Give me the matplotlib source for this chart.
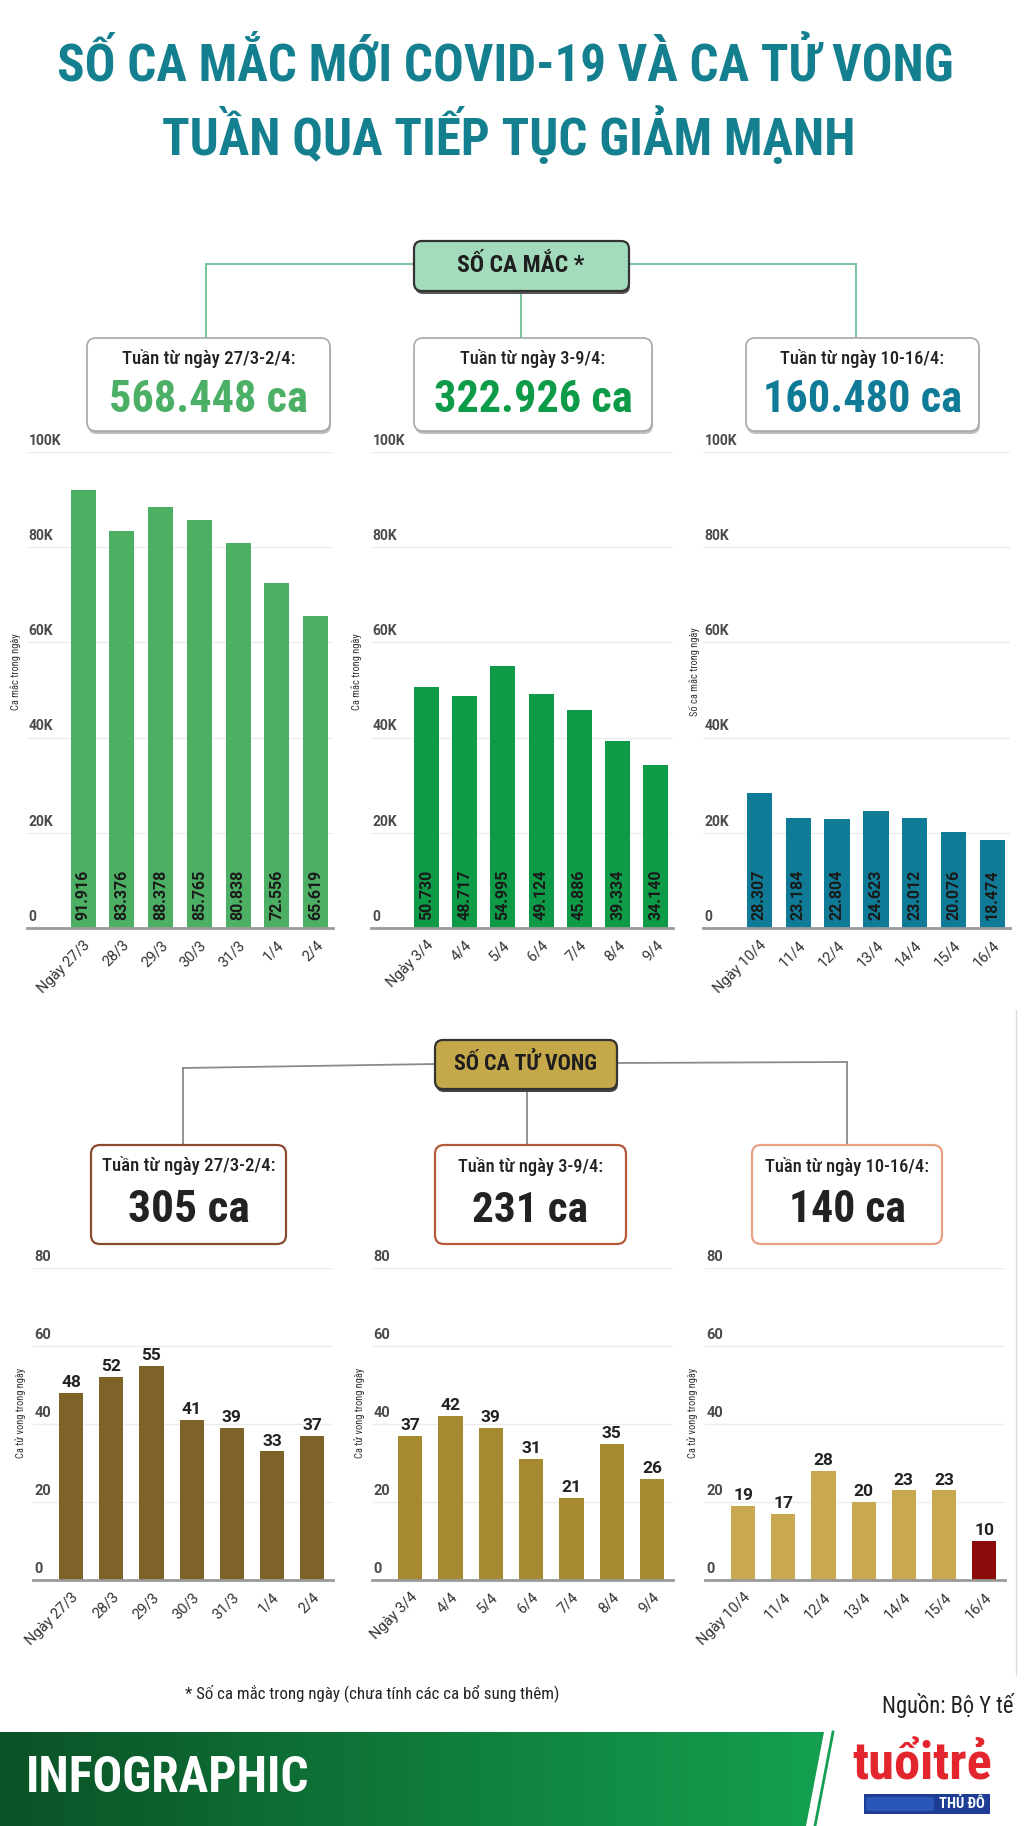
import matplotlib
matplotlib.use('Agg')
import matplotlib.pyplot as plt
import numpy as np
from matplotlib import font_manager
from matplotlib.patches import FancyBboxPatch, Polygon, Rectangle
from matplotlib.colors import LinearSegmentedColormap

# -------------------- fonts --------------------
names = {f.name for f in font_manager.fontManager.ttflist}
cond = next((n for n in ['Roboto Condensed', 'Liberation Sans Narrow', 'Open Sans Condensed']
             if n in names), 'Roboto')
COND = [cond, 'Roboto', 'DejaVu Sans']
SANS = ['Roboto', 'DejaVu Sans']
plt.rcParams['font.family'] = SANS

# -------------------- data --------------------
days_w1 = ['Ngày 27/3', '28/3', '29/3', '30/3', '31/3', '1/4', '2/4']
days_w2 = ['Ngày 3/4', '4/4', '5/4', '6/4', '7/4', '8/4', '9/4']
days_w3 = ['Ngày 10/4', '11/4', '12/4', '13/4', '14/4', '15/4', '16/4']

cases_w1 = [91916, 83376, 88378, 85765, 80838, 72556, 65619]
cases_w2 = [50730, 48717, 54995, 49124, 45886, 39334, 34140]
cases_w3 = [28307, 23184, 22804, 24623, 23012, 20076, 18474]

deaths_w1 = [48, 52, 55, 41, 39, 33, 37]
deaths_w2 = [37, 42, 39, 31, 21, 35, 26]
deaths_w3 = [19, 17, 28, 20, 23, 23, 10]

week_titles = ['Tuần từ ngày 27/3-2/4:', 'Tuần từ ngày 3-9/4:', 'Tuần từ ngày 10-16/4:']
case_totals = ['568.448 ca', '322.926 ca', '160.480 ca']
death_totals = ['305 ca', '231 ca', '140 ca']

case_colors = ['#4caf63', '#0d9b48', '#0f7b97']
case_total_colors = ['#4caf66', '#0d9b48', '#0f7b97']
death_colors = ['#7d6328', '#a68a30', '#c9a94f']
death_last_color = '#8b0a0a'
death_box_edges = ['#8a4b2e', '#b45a3a', '#e9a183']

case_ylabels = ['Ca mắc trong ngày', 'Ca mắc trong ngày', 'Số ca mắc trong ngày']
death_ylabel = 'Ca tử vong trong ngày'

W, H = 1024, 1826
fig = plt.figure(figsize=(W / 100, H / 100), dpi=100)
bg = fig.add_axes([0, 0, 1, 1])
bg.set_xlim(0, W)
bg.set_ylim(H, 0)
bg.axis('off')
renderer = fig.canvas.get_renderer()


def fit(t, width):
    # chỉnh cỡ chữ theo bề rộng đo trên ảnh gốc
    w = t.get_window_extent(renderer).width
    t.set_fontsize(t.get_fontsize() * width / w)
    return t


def px_axes(x0, x1, ytop, ybot):
    ax = fig.add_axes([x0 / W, 1 - ybot / H, (x1 - x0) / W, (ybot - ytop) / H])
    ax.set_facecolor('none')
    return ax


def rbox(x, y, w, h, fc, ec, lw, r=7, shadow=None):
    if shadow:
        bg.add_patch(FancyBboxPatch((x + 1, y + 3), w, h, boxstyle=f'round,pad=0,rounding_size={r}',
                                    fc=shadow, ec='none', zorder=1))
    bg.add_patch(FancyBboxPatch((x, y), w, h, boxstyle=f'round,pad=0,rounding_size={r}',
                                fc=fc, ec=ec, lw=lw, zorder=2))


# -------------------- title --------------------
title_col = '#14808f'
fit(bg.text(505, 66, 'SỐ CA MẮC MỚI COVID-19 VÀ CA TỬ VONG', ha='center', va='center',
            fontsize=30, weight='bold', color=title_col, family=COND), 897)
fit(bg.text(509, 137, 'TUẦN QUA TIẾP TỤC GIẢM MẠNH', ha='center', va='center',
            fontsize=30, weight='bold', color=title_col, family=COND), 693)

# -------------------- cases header --------------------
line_g = '#7cc4a0'
bg.plot([206, 414], [264, 264], color=line_g, lw=1.5, zorder=1)
bg.plot([629, 856], [264, 264], color=line_g, lw=1.5, zorder=1)
bg.plot([206, 206], [264, 338], color=line_g, lw=1.5, zorder=1)
bg.plot([856, 856], [264, 338], color=line_g, lw=1.5, zorder=1)
bg.plot([521, 521], [291, 338], color=line_g, lw=1.5, zorder=1)
rbox(414, 241, 215, 50, '#a3dcbc', '#333333', 1.6, r=8, shadow='#555555')
fit(bg.text(521, 266, 'SỐ CA MẮC *', ha='center', va='center', fontsize=14,
            weight='bold', color='#1e1e1e', family=COND, zorder=3), 128)

case_boxes = [(87, 330), (414, 652), (746, 979)]
sub_w = [173, 144, 163]
for (x0, x1), title, total, col, sw in zip(case_boxes, week_titles, case_totals, case_total_colors, sub_w):
    rbox(x0, 338, x1 - x0, 93, 'white', '#a8a8a8', 1.2, r=9, shadow='#bdbdbd')
    cx = (x0 + x1) / 2
    fit(bg.text(cx, 359, title, ha='center', va='center', fontsize=11, color='#222222',
                family=COND, weight='medium', zorder=3), sw)
    fit(bg.text(cx, 400, total, ha='center', va='center', fontsize=30, weight='bold',
                color=col, family=COND, zorder=3), 199)

# -------------------- cases charts --------------------
case_axes = [(27, 333), (371, 673), (703, 1010)]
case_ylab_x = [16, 356, 694]
for (x0, x1), vals, days, col, ylab, lx in zip(case_axes, [cases_w1, cases_w2, cases_w3],
                                              [days_w1, days_w2, days_w3], case_colors,
                                              case_ylabels, case_ylab_x):
    ax = px_axes(x0, x1, 452, 928)
    x = np.arange(len(vals))
    ax.bar(x, vals, width=0.65, color=col, zorder=2)
    ax.set_xlim(-1.45, 6.45)
    ax.set_ylim(0, 100000)
    ticks = [0, 20000, 40000, 60000, 80000, 100000]
    ax.set_yticks(ticks)
    ax.grid(axis='y', color='#ececec', lw=1, zorder=0)
    ax.tick_params(axis='y', length=0, labelleft=False)
    for s in ax.spines.values():
        s.set_visible(False)
    ax.axhline(0, color='#9a9a9a', lw=2, zorder=3, clip_on=False)
    for t in ticks:
        ax.annotate('0' if t == 0 else f'{t // 1000}K', (0, t), xycoords=('axes fraction', 'data'),
                    xytext=(1, 3), textcoords='offset points', ha='left', va='bottom',
                    fontsize=10, weight='bold', color='#4a4a4a')
    ax.set_xticks(x)
    ax.set_xticklabels(days, rotation=45, ha='right', rotation_mode='anchor',
                       fontsize=10.5, color='#333333')
    ax.tick_params(axis='x', length=0, pad=7)
    for xi, v in zip(x, vals):
        ax.annotate(f'{v:,}'.replace(',', '.'), (xi, 0), xytext=(0, 6), textcoords='offset points',
                    rotation=90, ha='center', va='bottom', fontsize=11.5, weight='bold',
                    color='#1a1a1a')
    bg.text(lx, 672, ylab, rotation=90, ha='center', va='center', fontsize=7.5,
            color='#333333', family=COND)

# -------------------- deaths header --------------------
line_d = '#8a8a8a'
bg.plot([183, 435], [1068, 1064], color=line_d, lw=1.3, zorder=1)
bg.plot([617, 847], [1063, 1062], color=line_d, lw=1.3, zorder=1)
bg.plot([183, 183], [1068, 1145], color=line_d, lw=1.3, zorder=1)
bg.plot([847, 847], [1062, 1145], color=line_d, lw=1.3, zorder=1)
bg.plot([527, 527], [1089, 1145], color=line_d, lw=1.3, zorder=1)
rbox(435, 1040, 182, 49, '#c5a84a', '#333333', 1.6, r=8, shadow='#444444')
fit(bg.text(526, 1064, 'SỐ CA TỬ VONG', ha='center', va='center', fontsize=14,
            weight='bold', color='#1e1e1e', family=COND, zorder=3), 144)

death_boxes = [(91, 286), (435, 626), (752, 942)]
big_w = [122, 116, 117]
for (x0, x1), title, total, ec, sw, bw in zip(death_boxes, week_titles, death_totals,
                                              death_box_edges, sub_w, big_w):
    rbox(x0, 1145, x1 - x0, 99, 'white', ec, 1.6, r=9)
    cx = (x0 + x1) / 2
    fit(bg.text(cx, 1166, title, ha='center', va='center', fontsize=11, color='#222222',
                family=COND, weight='medium', zorder=3), sw)
    fit(bg.text(cx, 1210, total, ha='center', va='center', fontsize=30, weight='bold',
                color='#222222', family=COND, zorder=3), bw)

# -------------------- deaths charts --------------------
death_axes = [(33, 333), (372, 673), (705, 1005)]
death_ylab_x = [21, 360, 693]
for k, ((x0, x1), vals, days, col, lx) in enumerate(zip(death_axes, [deaths_w1, deaths_w2, deaths_w3],
                                                        [days_w1, days_w2, days_w3], death_colors,
                                                        death_ylab_x)):
    ax = px_axes(x0, x1, 1268, 1580)
    x = np.arange(len(vals))
    cols = [col] * len(vals)
    if k == 2:
        cols[-1] = death_last_color
    ax.bar(x, vals, width=0.6, color=cols, zorder=2)
    ax.set_xlim(-0.95, 6.52)
    ax.set_ylim(0, 80)
    ticks = [0, 20, 40, 60, 80]
    ax.set_yticks(ticks)
    ax.grid(axis='y', color='#ececec', lw=1, zorder=0)
    ax.tick_params(axis='y', length=0, labelleft=False)
    for s in ax.spines.values():
        s.set_visible(False)
    ax.axhline(0, color='#9a9a9a', lw=2, zorder=3, clip_on=False)
    for t in ticks:
        ax.annotate(str(t), (0, t), xycoords=('axes fraction', 'data'),
                    xytext=(1, 3), textcoords='offset points', ha='left', va='bottom',
                    fontsize=10.5, weight='bold', color='#4a4a4a')
    ax.set_xticks(x)
    ax.set_xticklabels(days, rotation=45, ha='right', rotation_mode='anchor',
                       fontsize=10.5, color='#333333')
    ax.tick_params(axis='x', length=0, pad=7)
    for xi, v in zip(x, vals):
        ax.annotate(str(v), (xi, v), xytext=(0, 2), textcoords='offset points',
                    ha='center', va='bottom', fontsize=12.5, weight='bold', color='#222222')
    bg.text(lx, 1413, death_ylabel, rotation=90, ha='center', va='center', fontsize=7.5,
            color='#333333', family=COND)

# viền phải mờ
bg.plot([1016, 1016], [1010, 1675], color='#dcdcdc', lw=1, zorder=1)

# -------------------- notes --------------------
fit(bg.text(372, 1693, '* Số ca mắc trong ngày (chưa tính các ca bổ sung thêm)', ha='center',
            va='center', fontsize=10, color='#222222', family=COND), 371)
fit(bg.text(1013, 1706, 'Nguồn: Bộ Y tế', ha='right', va='center', fontsize=10,
            color='#222222', family=COND), 131)

# -------------------- footer --------------------
grad = np.linspace(0, 1, 256).reshape(1, -1)
cmap = LinearSegmentedColormap.from_list('ftr', ['#0b5227', '#0f7a3a', '#14a050'])
im = bg.imshow(grad, cmap=cmap, extent=[0, 826, 1826, 1732], aspect='auto', zorder=1)
clip = Polygon([(0, 1732), (824, 1732), (806, 1826), (0, 1826)], closed=True,
               transform=bg.transData, fc='none', ec='none')
bg.add_patch(clip)
im.set_clip_path(clip)
bg.plot([833, 815], [1732, 1826], color='#14a050', lw=2, zorder=2)
fit(bg.text(26, 1778, 'INFOGRAPHIC', ha='left', va='center', fontsize=30, weight='bold',
            color='white', family=COND, zorder=3), 283)
fit(bg.text(922, 1766, 'tuổitrẻ', ha='center', va='center', fontsize=30, weight='bold',
            color='#e3262d', family=COND, zorder=3), 140)
bg.add_patch(Rectangle((864, 1794), 126, 20, fc='#1d3e94', ec='none', zorder=3))
bg.add_patch(Rectangle((866, 1797), 68, 14, fc='#2a56b8', ec='none', zorder=3))
fit(bg.text(962, 1804, 'THỦ ĐÔ', ha='center', va='center', fontsize=10, weight='bold',
            color='white', family=COND, zorder=4), 46)

fig.savefig('out.png', dpi=100)
